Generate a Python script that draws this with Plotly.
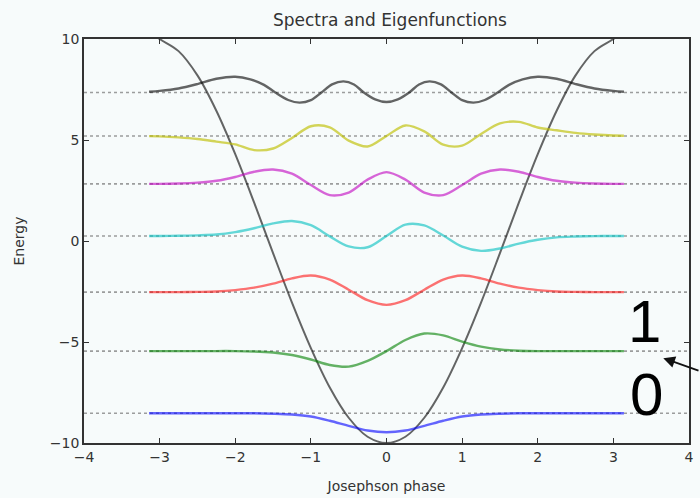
import plotly.graph_objects as go

# ---- data ----
levels = [-8.53, -5.45, -2.53, 0.25, 2.83, 5.2, 7.35]
level_colors = ["rgba(0,0,255,0.6)", "rgba(0,128,0,0.6)", "rgba(255,0,0,0.55)",
                "rgba(0,191,191,0.6)", "rgba(191,0,191,0.6)", "rgba(191,191,0,0.65)",
                "rgba(0,0,0,0.6)"]

pot_x = [-3.14, -3.0, -2.75, -2.5, -2.25, -2.0, -1.75, -1.5, -1.25, -1.0, -0.75, -0.5, -0.25, 0.0,
         0.25, 0.5, 0.75, 1.0, 1.25, 1.5, 1.75, 2.0, 2.25, 2.5, 2.75, 3.0, 3.14]
pot_y = [10.4, 10.0, 9.4, 8.2, 6.45, 4.3, 1.9, -0.6, -3.05, -5.3, -7.25, -8.75, -9.69, -10.0,
         -9.69, -8.75, -7.25, -5.3, -3.05, -0.6, 1.9, 4.3, 6.45, 8.2, 9.4, 10.0, 10.4]

# even states: offsets from their level on the right half (x >= 0), mirrored
half_x = [0.0, 0.25, 0.5, 0.75, 1.0, 1.25, 1.5, 1.75, 2.0, 2.25, 2.5, 2.75, 3.0, 3.14]
psi0 = [-0.94, -0.85, -0.62, -0.37, -0.16, -0.06, -0.02, 0.0, 0.0, 0.0, 0.0, 0.0, 0.0, 0.0]
psi2 = [-0.63, -0.4, 0.12, 0.62, 0.82, 0.68, 0.42, 0.22, 0.1, 0.03, 0.01, 0.0, 0.0, 0.0]
psi4 = [0.58, 0.21, -0.43, -0.56, -0.06, 0.5, 0.71, 0.6, 0.34, 0.15, 0.06, 0.02, 0.0, 0.0]
psi6_x = [0.0, 0.15, 0.3, 0.43, 0.57, 0.72, 0.86, 1.0, 1.15, 1.3, 1.47, 1.62, 1.8, 2.0, 2.25,
          2.5, 2.75, 3.0, 3.14]
psi6 = [-0.47, -0.34, 0.0, 0.4, 0.55, 0.4, 0.0, -0.38, -0.5, -0.37, 0.0, 0.38, 0.65, 0.78, 0.68,
        0.42, 0.2, 0.08, 0.04]

# odd states: right half values, mirrored with a sign change
psi1 = [0.0, 0.55, 0.87, 0.78, 0.47, 0.22, 0.08, 0.02, 0.0, 0.0, 0.0, 0.0, 0.0, 0.0]
psi1_left_min = -0.77
psi3 = [0.0, 0.56, 0.52, 0.02, -0.53, -0.74, -0.62, -0.38, -0.19, -0.07, -0.03, -0.01, 0.0, 0.0]
psi5 = [0.0, 0.52, 0.23, -0.43, -0.48, 0.1, 0.62, 0.7, 0.42, 0.28, 0.15, 0.07, 0.02, 0.01]

x_ticks = [-4, -3, -2, -1, 0, 1, 2, 3, 4]
y_ticks = [-10, -5, 0, 5, 10]


def mirror(xs, ys, sign):
    return [-v for v in xs[:0:-1]] + xs, [sign * v for v in ys[:0:-1]] + ys


def lab(v):
    return str(v).replace("-", "\u2212")


fig = go.Figure()

# dotted energy levels
for e in levels:
    fig.add_trace(go.Scatter(x=[-4, 4], y=[e, e], mode="lines",
                             line=dict(color="rgba(140,140,140,0.85)", width=1.6, dash="dot"),
                             hoverinfo="skip", showlegend=False))

# potential
fig.add_trace(go.Scatter(x=pot_x, y=pot_y, mode="lines",
                         line=dict(color="rgba(0,0,0,0.6)", width=2.0, shape="spline"),
                         showlegend=False))

x1, y1 = mirror(half_x, psi1, -1)
y1 = [v * (-psi1_left_min / 0.87) if xv < 0 else v for xv, v in zip(x1, y1)]
order = [(0, mirror(half_x, psi0, 1)), (1, (x1, y1)), (2, mirror(half_x, psi2, 1)),
         (3, mirror(half_x, psi3, -1)), (4, mirror(half_x, psi4, 1)),
         (5, mirror(half_x, psi5, -1)), (6, mirror(psi6_x, psi6, 1))]
for i, (xs, ys) in order:
    fig.add_trace(go.Scatter(x=xs, y=[levels[i] + v for v in ys], mode="lines",
                             line=dict(color=level_colors[i], width=2.4, shape="spline",
                                       smoothing=0.9),
                             showlegend=False))

fig.add_annotation(x=3.41, y=-4.0, xref="x", yref="y", text="1", showarrow=False,
                   font=dict(family="Liberation Sans", size=60, color="black"))
fig.add_annotation(x=3.44, y=-7.6, xref="x", yref="y", text="0", showarrow=False,
                   font=dict(family="Liberation Sans", size=60, color="black"))
fig.add_annotation(x=3.66, y=-5.8, xref="x", yref="y", text="", showarrow=True,
                   ax=40, ay=13, arrowhead=2, arrowsize=1.3, arrowwidth=1.8,
                   arrowcolor="#111")

axis_common = dict(showline=True, mirror="allticks", linecolor="#333", linewidth=1.6,
                   ticks="inside", ticklen=5, tickwidth=1, tickcolor="#333",
                   showgrid=False, zeroline=False,
                   tickfont=dict(family="DejaVu Sans", size=14, color="#333"))

fig.update_layout(
    width=700, height=498,
    margin=dict(l=84, r=6, t=39, b=55),
    paper_bgcolor="#f7fbfb", plot_bgcolor="#f7fbfb",
    title=dict(text="Spectra and Eigenfunctions", x=0.557, xanchor="center",
               y=0.96, yanchor="middle",
               font=dict(family="DejaVu Sans", size=17, color="#333")),
    xaxis=dict(range=[-4, 4], tickvals=x_ticks, ticktext=[lab(v) for v in x_ticks],
               title=dict(text="Josephson phase", standoff=18,
                          font=dict(family="DejaVu Sans", size=14, color="#333")),
               **axis_common),
    yaxis=dict(range=[-10, 10], tickvals=y_ticks, ticktext=[lab(v) for v in y_ticks],
               title=dict(text="Energy", standoff=22,
                          font=dict(family="DejaVu Sans", size=14, color="#333")),
               **axis_common),
)

fig.write_html("out.html")
